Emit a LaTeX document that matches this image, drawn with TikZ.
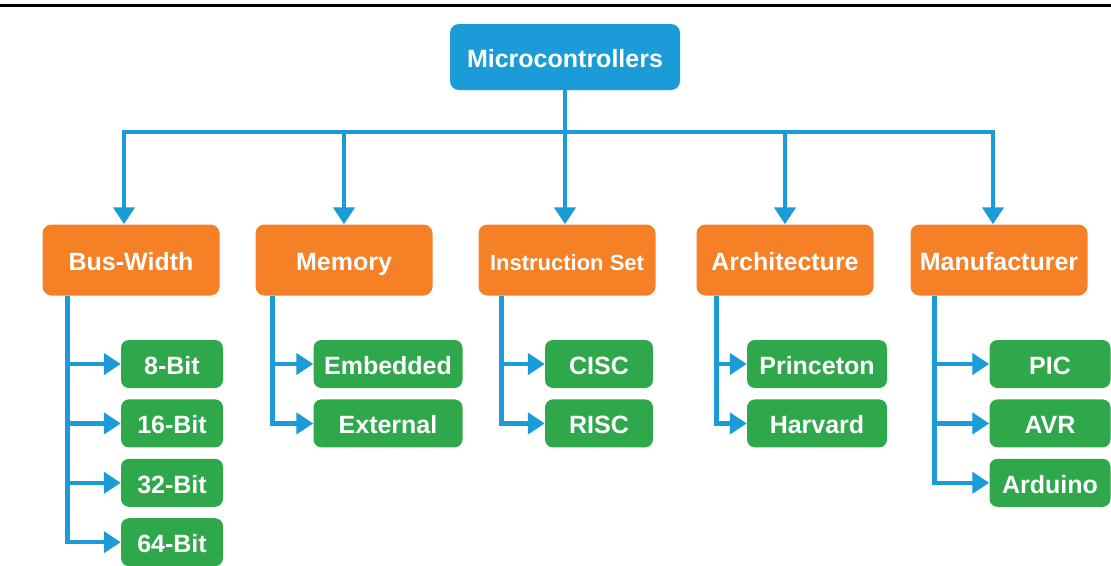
\documentclass[tikz,border=0pt]{standalone}
\usepackage{fontspec}
\setmainfont{Liberation Sans}
\usetikzlibrary{arrows.meta, positioning}

\definecolor{mcblue}{RGB}{27,155,215}
\definecolor{mcorange}{RGB}{245,128,37}
\definecolor{mcgreen}{RGB}{46,168,74}

\begin{document}
\begin{tikzpicture}[x=1pt, y=-1pt,
  box/.style={rounded corners=9pt, text=white, inner sep=0pt,
    text height=22pt, text depth=1pt,
    font=\bfseries\fontsize{25}{28}\selectfont},
  root/.style={box, fill=mcblue, minimum width=230pt, minimum height=66pt},
  group/.style={box, fill=mcorange, minimum width=177pt, minimum height=71pt},
  leaf/.style={box, fill=mcgreen, minimum height=48pt, rounded corners=8pt},
  link/.style={mcblue, line width=4.5pt},
  tip/.style={link, -{Triangle[length=17pt, width=21pt]}}]
  \useasboundingbox (0,0) rectangle (1111,565);

  % rule along the top
  \draw[line width=3pt] (0,5.5) -- (1111,5.5);

  % root and groups
  \node[root] (mcu) at (565,57) {Microcontrollers};
  \node[group] (bus) at (131,260) {Bus-Width};
  \node[group] (mem) at (344,260) {Memory};
  \node[group, font=\bfseries\fontsize{22}{26}\selectfont] (iset) at (567,260) {Instruction Set};
  \node[group] (arch) at (785,260) {Architecture};
  \node[group] (manu) at (999,260) {Manufacturer};

  % leaves
  \node[leaf, minimum width=102pt] (b8) at (172,364) {8-Bit};
  \node[leaf, minimum width=102pt, below=11pt of b8] (b16) {16-Bit};
  \node[leaf, minimum width=102pt, below=11pt of b16] (b32) {32-Bit};
  \node[leaf, minimum width=102pt, below=11pt of b32] (b64) {64-Bit};

  \node[leaf, minimum width=149pt] (emb) at (388,364) {Embedded};
  \node[leaf, minimum width=149pt, below=11pt of emb] (ext) {External};

  \node[leaf, minimum width=108pt] (cisc) at (599,364) {CISC};
  \node[leaf, minimum width=108pt, below=11pt of cisc] (risc) {RISC};

  \node[leaf, minimum width=140pt] (prin) at (817,364) {Princeton};
  \node[leaf, minimum width=140pt, below=11pt of prin] (harv) {Harvard};

  \node[leaf, minimum width=121pt] (pic) at (1050,364) {PIC};
  \node[leaf, minimum width=121pt, below=11pt of pic] (avr) {AVR};
  \node[leaf, minimum width=121pt, below=11pt of avr] (ard) {Arduino};

  % root to groups
  \coordinate (hub) at (565,132);
  \coordinate (busL) at (124,132);
  \coordinate (busR) at (993,132);
  \draw[tip] (mcu.south) -- (mcu.south |- iset.north);
  \draw[tip] (hub) -| (bus.north -| busL);
  \draw[tip] (hub) -| (manu.north -| busR);
  \foreach \g in {mem, arch}
    \draw[tip] (\g.north |- hub) -- (\g.north);

  % groups to leaves
  \coordinate (busT) at ([xshift=25pt]bus.south west);
  \coordinate (memT) at ([xshift=17pt]mem.south west);
  \coordinate (isetT) at ([xshift=23pt]iset.south west);
  \coordinate (archT) at ([xshift=20pt]arch.south west);
  \coordinate (manuT) at ([xshift=24pt]manu.south west);
  \foreach \c in {b8, b16, b32, b64}
    \draw[tip] (busT) |- (\c.west);
  \foreach \c in {emb, ext}
    \draw[tip] (memT) |- (\c.west);
  \foreach \c in {cisc, risc}
    \draw[tip] (isetT) |- (\c.west);
  \foreach \c in {prin, harv}
    \draw[tip] (archT) |- (\c.west);
  \foreach \c in {pic, avr, ard}
    \draw[tip] (manuT) |- (\c.west);
\end{tikzpicture}
\end{document}
